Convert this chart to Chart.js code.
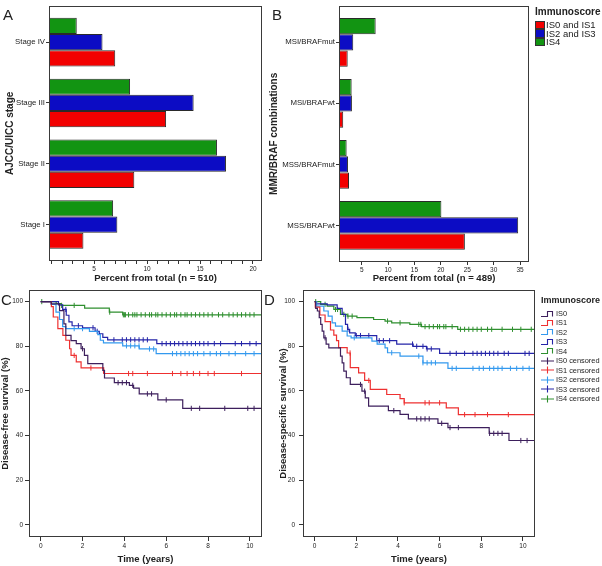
<!DOCTYPE html>
<html>
<head>
<meta charset="utf-8">
<script src="https://cdn.jsdelivr.net/npm/chart.js@4.4.1/dist/chart.umd.min.js"></script>
<style>
  body { margin: 0; background: #fff; font-family: 'Liberation Sans', Arial, sans-serif; color: #222; }
  #wrap { position: relative; width: 602px; height: 566px; overflow: hidden; }
  canvas { position: absolute; }
  .letter { position: absolute; font-size: 15px; line-height: 15px; }
  .legTitle { position: absolute; font-weight: bold; }
  .row { position: absolute; display: flex; align-items: center; white-space: nowrap; }
  .swatch { box-sizing: border-box; width: 10px; height: 8.5px; border: 1px solid #333; margin-right: 1px; }
</style>
</head>
<body>
<div id="wrap">
  <canvas id="chartA" width="270" height="290" style="left:0;top:0"></canvas>
  <canvas id="chartB" width="271" height="290" style="left:264px;top:0"></canvas>
  <canvas id="chartC" width="272" height="286" style="left:0;top:280px"></canvas>
  <canvas id="chartD" width="264" height="286" style="left:276px;top:280px"></canvas>
  <div class="letter" style="left:3px;top:7px">A</div>
  <div class="letter" style="left:272px;top:7px">B</div>
  <div class="letter" style="left:1px;top:292px">C</div>
  <div class="letter" style="left:264px;top:292px">D</div>
  <div id="legB"></div>
  <div id="legD"></div>
</div>
<script>
// ─── Data: panel A (AJCC/UICC stage) ─────────────────────────────────────────
const stageLabels = ['Stage IV', 'Stage III', 'Stage II', 'Stage I'];
const stageIS01 = [7.0, 11.8, 8.8, 4.0];
const stageIS23 = [5.8, 14.4, 17.45, 7.2];
const stageIS4 = [3.37, 8.4, 16.6, 6.8];

// ─── Data: panel B (MMR/BRAF) ────────────────────────────────────────────────
const mmrLabels = ['MSI/BRAFmut', 'MSI/BRAFwt', 'MSS/BRAFmut', 'MSS/BRAFwt'];
const mmrIS01 = [2.35, 1.5, 2.6, 24.55];
const mmrIS23 = [3.4, 3.15, 2.4, 34.65];
const mmrIS4 = [7.65, 3.1, 2.15, 20.1];

const barLegend = ['IS0 and IS1', 'IS2 and IS3', 'IS4'];

// ─── Data: panel C (disease-free survival) ───────────────────────────────────
const cT0 = [0, 0.5, 0.9, 1.11, 1.2, 1.45, 1.7, 1.93, 2.09, 2.25, 2.97, 3.05, 3.52, 4.24, 4.44, 4.71, 5.6, 6.79, 10.55];
const cS0 = [100, 99, 96, 90, 84.9, 82.5, 81.2, 78.9, 75.9, 72.2, 69.2, 65.8, 63.7, 62.5, 61.3, 58.7, 56, 52.2, 52.2];
const cC0 = [2.0, 3.0, 3.7, 3.9, 4.1, 4.4, 5.1, 5.3, 6.0, 7.2, 7.6, 8.8, 9.9, 10.2];

const cT1 = [0, 0.51, 0.6, 0.82, 1.06, 1.2, 1.38, 1.45, 1.7, 1.93, 3.01, 10.55];
const cS1 = [100, 97.8, 93.1, 87.9, 84.9, 82.7, 78.9, 75.9, 73, 70.3, 67.8, 67.8];
const cC1 = [1.6, 2.4, 4.2, 4.4, 5.1, 6.3, 6.7, 7.0, 7.3, 7.6, 8.0, 8.3, 9.6];

const cT2 = [0, 0.5, 0.73, 0.9, 1.05, 1.2, 2.33, 2.73, 2.85, 3.0, 3.92, 4.71, 5.52, 10.55];
const cS2 = [100, 98.8, 95.3, 92, 88.8, 87.9, 86.7, 85.2, 82.7, 81.5, 80.2, 78.8, 76.7, 76.7];
const cC2 = [1.6, 2.0, 4.1, 4.3, 4.5, 4.7, 5.2, 5.4, 6.3, 6.5, 6.7, 6.9, 7.1, 7.3, 7.5, 7.8, 8.1, 8.4, 8.6, 9.0, 9.3, 9.8, 10.2];

const cT3 = [0, 0.85, 1.05, 1.22, 1.35, 1.5, 2.0, 2.6, 2.8, 2.97, 3.2, 5.55, 10.55];
const cS3 = [100, 98.5, 96.5, 93.9, 90.9, 89.2, 88.3, 86.7, 85.6, 84, 82.9, 81.2, 81.2];
const cC3 = [1.2, 1.8, 2.5, 2.7, 3.5, 3.9, 4.1, 4.3, 4.5, 4.7, 4.9, 5.1, 5.8, 6.0, 6.2, 6.4, 6.6, 6.8, 7.0, 7.2, 7.4, 7.6, 7.8, 8.0, 8.3, 8.6, 9.3, 9.6, 10.0, 10.3];

const cT4 = [0, 0.74, 0.98, 2.1, 3.28, 3.92, 10.55];
const cS4 = [100, 99.1, 98.3, 97.1, 95.3, 94.1, 94.1];
const cC4 = [0.05, 1.0, 1.6, 3.3, 3.95, 4.0, 4.05, 4.2, 4.4, 4.5, 4.6, 4.8, 5.0, 5.2, 5.3, 5.5, 5.6, 5.8, 6.0, 6.2, 6.4, 6.5, 6.7, 6.9, 7.0, 7.2, 7.4, 7.6, 7.8, 8.0, 8.2, 8.5, 8.7, 9.0, 9.2, 9.4, 9.6, 9.8, 10.0, 10.2];

// ─── Data: panel D (disease-specific survival) ───────────────────────────────
const dT0 = [0, 0.05, 0.13, 0.22, 0.29, 0.36, 0.44, 0.55, 0.68, 1.24, 1.32, 1.4, 1.52, 1.71, 2.27, 2.43, 2.59, 3.54, 4.1, 4.5, 5.92, 6.4, 8.38, 9.33, 10.55];
const dS0 = [100, 97, 95.8, 92.8, 89.8, 86.8, 83.8, 81, 79.3, 75.6, 72.6, 68.9, 65.9, 62.9, 59.9, 56.9, 53.2, 51.2, 49.5, 47.5, 45.5, 43.6, 41, 37.8, 37.8];
const dC0 = [0.5, 2.2, 2.4, 3.8, 4.9, 5.1, 5.3, 5.5, 6.1, 6.5, 6.9, 8.4, 8.6, 8.8, 9.0, 9.9, 10.2];

const dT1 = [0, 0.03, 0.25, 0.5, 0.76, 0.92, 1.05, 1.15, 1.56, 1.71, 2.11, 2.4, 2.67, 3.46, 4.1, 4.3, 6.32, 6.9, 10.55];
const dS1 = [100, 97.5, 94, 91, 87.3, 85, 82.5, 79.4, 77, 70.4, 68.1, 64.7, 60.7, 58.4, 56.6, 54.7, 52.4, 49.4, 49.4];
const dC1 = [1.7, 2.6, 4.3, 5.3, 5.5, 6.0, 7.2, 7.7, 8.3, 9.3];

const dT2 = [0, 0.1, 0.44, 0.65, 0.84, 1.0, 1.32, 1.56, 1.75, 2.75, 3.0, 3.38, 3.5, 4.1, 5.2, 6.4, 10.55];
const dS2 = [100, 98, 95.8, 93.5, 90.5, 89, 86.8, 84.6, 83.8, 82.3, 81, 79.3, 77.1, 75.6, 72.6, 70.1, 70.1];
const dC2 = [1.9, 3.7, 5.0, 5.2, 5.4, 5.6, 5.8, 6.6, 6.8, 7.6, 7.9, 8.1, 8.4, 8.6, 8.8, 9.0, 9.4, 9.7, 10.0, 10.3];

const dT3 = [0, 0.05, 0.6, 1.08, 1.32, 1.48, 1.58, 1.68, 1.95, 2.98, 3.94, 4.73, 5.37, 6.0, 10.55];
const dS3 = [100, 99, 98.5, 97, 94.3, 89.8, 87.6, 86, 84.8, 82.5, 81, 80, 78.8, 76.8, 76.8];
const dC3 = [1.6, 2.0, 2.2, 2.6, 3.1, 3.3, 3.6, 4.7, 4.9, 5.2, 5.4, 5.6, 6.5, 6.8, 7.2, 7.6, 7.8, 8.0, 8.2, 8.4, 8.6, 8.8, 9.1, 9.3, 10.1, 10.3];

const dT4 = [0, 0.29, 0.6, 0.92, 1.24, 1.56, 2.03, 2.83, 3.38, 3.7, 4.57, 5.13, 6.87, 10.55];
const dS4 = [100, 98.8, 98, 96.5, 94.3, 93.5, 92.8, 92, 91.3, 90.5, 89.8, 88.8, 87.6, 87.6];
const dC4 = [0.05, 0.5, 1.0, 1.1, 1.4, 1.6, 1.8, 3.5, 4.1, 5.0, 5.1, 5.3, 5.5, 5.7, 5.9, 6.0, 6.2, 6.3, 6.6, 7.0, 7.2, 7.4, 7.6, 7.8, 8.0, 8.3, 8.5, 9.0, 9.5, 9.9, 10.4];

const kmNames = ['IS0', 'IS1', 'IS2', 'IS3', 'IS4'];

// ─── Style ───────────────────────────────────────────────────────────────────
const RED = '#f20000', BLUE = '#0c0cc4', GREEN = '#129412';
const KM_COLORS = ['#3d1f5c', '#ee3030', '#3399ee', '#2424a8', '#2f8f2f'];
const FONT = "'Liberation Sans', Arial, sans-serif";
Chart.defaults.font.family = FONT;
Chart.defaults.color = '#222';

const boxPlugin = {
  id: 'box',
  afterDraw(chart) {
    const { ctx, chartArea: a } = chart;
    ctx.save();
    ctx.strokeStyle = '#3a3a3a';
    ctx.lineWidth = 1;
    ctx.strokeRect(Math.round(a.left) + 0.5, Math.round(a.top) + 0.5,
      Math.round(a.right - a.left) - 1, Math.round(a.bottom - a.top) - 1);
    ctx.restore();
  }
};

function fit(size) {
  return axis => { if (axis.isHorizontal()) axis.height = size; else axis.width = size; };
}

// ─── Bar panels ──────────────────────────────────────────────────────────────
function barChart(id, cats, red, blue, green, x, yTitle, yWidth, xHeight, padRight) {
  const toPts = arr => arr.map((v, i) => ({ x: v, y: i }));
  const ds = (data, color) => ({
    data: toPts(data), backgroundColor: color, borderColor: '#2a2a2a',
    borderWidth: 1, borderSkipped: false, clip: 0,
    categoryPercentage: 0.8, barPercentage: 1
  });
  return new Chart(document.getElementById(id), {
    type: 'bar',
    data: { datasets: [ds(green, GREEN), ds(blue, BLUE), ds(red, RED)] },
    options: {
      responsive: false, animation: false, indexAxis: 'y',
      layout: { padding: { top: 2, right: padRight, left: 0, bottom: 0 } },
      plugins: { legend: { display: false }, tooltip: { enabled: false } },
      scales: {
        x: {
          type: 'linear', min: x.min, max: x.max, afterFit: fit(xHeight),
          ticks: {
            stepSize: x.step, includeBounds: false, autoSkip: false, maxRotation: 0,
            padding: 1, font: { size: 6.5 }, callback: v => (v % 5 === 0 ? v : '')
          },
          grid: { drawOnChartArea: false, tickLength: 3, color: '#333' },
          border: { display: false },
          title: { display: true, text: x.title, font: { size: 9.5, weight: 'bold' }, padding: { top: 0, bottom: 6 } }
        },
        y: {
          type: 'linear', reverse: true, offset: false, min: -0.6, max: 3.6, afterFit: fit(yWidth),
          ticks: { stepSize: 1, includeBounds: false, autoSkip: false, padding: 1, font: { size: 7.8 }, callback: v => cats[v] ?? '' },
          grid: { offset: false, drawOnChartArea: false, tickLength: 3, color: '#333' },
          border: { display: false },
          title: { display: true, text: yTitle, font: { size: 10, weight: 'bold' }, padding: { top: 4, bottom: 0 } }
        }
      }
    },
    plugins: [boxPlugin]
  });
}

barChart('chartA', stageLabels, stageIS01, stageIS23, stageIS4,
  { min: 0.75, max: 20.85, step: 1, title: 'Percent from total (n = 510)' },
  'AJCC/UICC stage', 49, 29, 8);
barChart('chartB', mmrLabels, mmrIS01, mmrIS23, mmrIS4,
  { min: 0.7, max: 36.7, step: 5, title: 'Percent from total (n = 489)' },
  'MMR/BRAF combinations', 75, 28, 6);

// ─── Kaplan-Meier panels ─────────────────────────────────────────────────────
function survAt(t, s, x) {
  let v = s[0];
  for (let i = 0; i < t.length; i++) if (t[i] <= x) v = s[i];
  return v;
}

function kmChart(id, times, survs, cens, yTitle, yWidth, padRight, titlePad, tickPad) {
  const curves = times.map((t, k) => ({
    data: t.map((x, i) => ({ x, y: survs[k][i] })),
    showLine: true, stepped: true, borderColor: KM_COLORS[k], borderWidth: 1.2,
    pointRadius: 0, fill: false, clip: 0
  }));
  const marks = cens.map((c, k) => ({
    data: c.map(x => ({ x, y: survAt(times[k], survs[k], x) })),
    showLine: false, pointStyle: 'line', rotation: 90, pointRadius: 2.6,
    borderColor: KM_COLORS[k], backgroundColor: KM_COLORS[k], borderWidth: 1
  }));
  return new Chart(document.getElementById(id), {
    type: 'scatter',
    data: { datasets: [...curves, ...marks] },
    options: {
      responsive: false, animation: false,
      layout: { padding: { top: 10, right: padRight, left: 0, bottom: 0 } },
      plugins: { legend: { display: false }, tooltip: { enabled: false } },
      scales: {
        x: {
          type: 'linear', min: -0.56, max: 10.58, afterFit: fit(29),
          ticks: { stepSize: 2, includeBounds: false, autoSkip: false, maxRotation: 0, padding: 1, font: { size: 6.5 } },
          grid: { drawOnChartArea: false, tickLength: 4, color: '#333' },
          border: { display: false },
          title: { display: true, text: 'Time (years)', font: { size: 9.5, weight: 'bold' }, padding: { top: 0, bottom: 1.3 } }
        },
        y: {
          type: 'linear', min: -5.4, max: 105.2, afterFit: fit(yWidth),
          ticks: { stepSize: 20, includeBounds: false, autoSkip: false, padding: tickPad, font: { size: 6.5 } },
          grid: { drawOnChartArea: false, tickLength: 4, color: '#333' },
          border: { display: false },
          title: { display: true, text: yTitle, font: { size: 9.5, weight: 'bold' }, padding: { top: titlePad, bottom: 0 } }
        }
      }
    },
    plugins: [boxPlugin]
  });
}

kmChart('chartC', [cT0, cT1, cT2, cT3, cT4], [cS0, cS1, cS2, cS3, cS4], [cC0, cC1, cC2, cC3, cC4],
  'Disease-free survival (%)', 29, 10, 0, 2);
kmChart('chartD', [dT0, dT1, dT2, dT3, dT4], [dS0, dS1, dS2, dS3, dS4], [dC0, dC1, dC2, dC3, dC4],
  'Disease-specific survival (%)', 27, 3, 1.3, 4);

// ─── Legends ─────────────────────────────────────────────────────────────────
const legB = document.getElementById('legB');
legB.innerHTML = '<div class="legTitle" style="left:535px;top:6.7px;font-size:10px;line-height:10px">Immunoscore</div>' +
  barLegend.map((name, i) => {
    const c = [RED, BLUE, GREEN][i];
    return `<div class="row" style="left:535px;top:${20.5 + i * 8.5}px;height:8.5px;font-size:9.5px">
      <div class="swatch" style="background:${c}"></div><span>${name}</span></div>`;
  }).join('');

const stepIcon = c => `<svg width="14" height="8" style="margin-right:1px"><path d="M0 6.5 H6.5 V1.5 H11.5 V6.5" fill="none" stroke="${c}" stroke-width="1.1"/></svg>`;
const censIcon = c => `<svg width="14" height="8" style="margin-right:1px"><path d="M0 4 H13 M6.5 0.5 V7.5" fill="none" stroke="${c}" stroke-width="1.1"/></svg>`;
const legD = document.getElementById('legD');
const dItems = [
  ...kmNames.map((n, i) => ({ text: n, icon: stepIcon(KM_COLORS[i]) })),
  ...kmNames.map((n, i) => ({ text: n + ' censored', icon: censIcon(KM_COLORS[i]) }))
];
legD.innerHTML = '<div class="legTitle" style="left:541px;top:295.5px;font-size:9px;line-height:9px">Immunoscore</div>' +
  dItems.map((it, i) => `<div class="row" style="left:541px;top:${309 + i * 9.45}px;height:9px;font-size:7.4px">${it.icon}<span>${it.text}</span></div>`).join('');
</script>
</body>
</html>
